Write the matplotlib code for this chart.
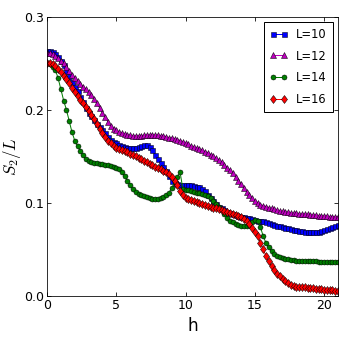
import numpy as np
import matplotlib
matplotlib.use("Agg")
import matplotlib.pyplot as plt

h = np.round(np.arange(0, 21.0001, 0.2), 2)

L10 = [0.263, 0.263, 0.262, 0.260, 0.257, 0.253, 0.248, 0.242, 0.236, 0.230,
       0.225, 0.220, 0.214, 0.208, 0.202, 0.197, 0.193, 0.189, 0.185, 0.182,
       0.178, 0.175, 0.171, 0.168, 0.166, 0.164, 0.162, 0.161, 0.160, 0.159,
       0.159, 0.159, 0.159, 0.160, 0.161, 0.162, 0.162, 0.160, 0.157, 0.152,
       0.147, 0.143, 0.139, 0.134, 0.129, 0.124, 0.121, 0.120, 0.119, 0.119,
       0.119, 0.119, 0.119, 0.118, 0.117, 0.117, 0.115, 0.113, 0.109, 0.105,
       0.102, 0.099, 0.096, 0.094, 0.092, 0.090, 0.089, 0.088, 0.087, 0.086,
       0.085, 0.085, 0.084, 0.084, 0.083, 0.082, 0.081, 0.081, 0.080, 0.079,
       0.078, 0.077, 0.076, 0.075, 0.075, 0.074, 0.073, 0.073, 0.072, 0.071,
       0.071, 0.070, 0.070, 0.069, 0.069, 0.069, 0.069, 0.069, 0.069, 0.070,
       0.071, 0.072, 0.073, 0.074, 0.075, 0.076]

L12 = [0.261, 0.261, 0.260, 0.258, 0.256, 0.253, 0.250, 0.246, 0.242, 0.238,
       0.234, 0.231, 0.228, 0.225, 0.222, 0.219, 0.216, 0.212, 0.207, 0.202,
       0.197, 0.192, 0.187, 0.183, 0.180, 0.178, 0.176, 0.175, 0.174, 0.173,
       0.173, 0.172, 0.172, 0.172, 0.172, 0.173, 0.173, 0.173, 0.173, 0.173,
       0.173, 0.172, 0.172, 0.171, 0.170, 0.170, 0.169, 0.168, 0.167, 0.166,
       0.164, 0.163, 0.161, 0.160, 0.159, 0.158, 0.157, 0.155, 0.154, 0.152,
       0.150, 0.148, 0.146, 0.144, 0.141, 0.138, 0.135, 0.132, 0.128, 0.124,
       0.120, 0.116, 0.112, 0.108, 0.105, 0.102, 0.100, 0.098, 0.097, 0.096,
       0.095, 0.094, 0.093, 0.092, 0.091, 0.091, 0.090, 0.090, 0.089, 0.089,
       0.089, 0.088, 0.088, 0.088, 0.088, 0.087, 0.087, 0.087, 0.086, 0.086,
       0.086, 0.086, 0.085, 0.085, 0.085, 0.085]

L14 = [0.250, 0.249, 0.246, 0.243, 0.234, 0.222, 0.210, 0.200, 0.188, 0.176,
       0.167, 0.161, 0.156, 0.151, 0.147, 0.145, 0.144, 0.143, 0.143, 0.142,
       0.142, 0.141, 0.141, 0.140, 0.139, 0.138, 0.136, 0.133, 0.129, 0.124,
       0.119, 0.115, 0.112, 0.110, 0.108, 0.107, 0.106, 0.105, 0.104, 0.104,
       0.104, 0.105, 0.106, 0.108, 0.111, 0.116, 0.122, 0.128, 0.133, 0.115,
       0.114, 0.114, 0.113, 0.112, 0.111, 0.111, 0.110, 0.109, 0.107, 0.105,
       0.102, 0.099, 0.096, 0.092, 0.088, 0.084, 0.081, 0.079, 0.077, 0.076,
       0.075, 0.075, 0.075, 0.076, 0.079, 0.082, 0.081, 0.074, 0.064, 0.057,
       0.052, 0.048, 0.045, 0.043, 0.042, 0.041, 0.040, 0.040, 0.039, 0.039,
       0.038, 0.038, 0.038, 0.037, 0.037, 0.037, 0.037, 0.037, 0.036, 0.036,
       0.036, 0.036, 0.036, 0.036, 0.036, 0.036]

L16 = [0.251, 0.251, 0.249, 0.247, 0.244, 0.241, 0.237, 0.233, 0.229, 0.224,
       0.219, 0.215, 0.211, 0.207, 0.203, 0.199, 0.195, 0.190, 0.185, 0.180,
       0.175, 0.171, 0.167, 0.164, 0.161, 0.159, 0.158, 0.157, 0.156, 0.155,
       0.153, 0.152, 0.150, 0.148, 0.147, 0.145, 0.144, 0.142, 0.141, 0.139,
       0.138, 0.136, 0.134, 0.133, 0.131, 0.128, 0.124, 0.119, 0.113, 0.108,
       0.105, 0.104, 0.103, 0.102, 0.101, 0.100, 0.099, 0.098, 0.097, 0.096,
       0.095, 0.094, 0.093, 0.092, 0.091, 0.090, 0.089, 0.088, 0.087, 0.086,
       0.085, 0.083, 0.080, 0.077, 0.073, 0.069, 0.064, 0.057, 0.050, 0.043,
       0.037, 0.032, 0.028, 0.024, 0.021, 0.018, 0.016, 0.014, 0.012, 0.011,
       0.010, 0.010, 0.009, 0.009, 0.008, 0.008, 0.008, 0.007, 0.007, 0.007,
       0.006, 0.006, 0.006, 0.006, 0.005, 0.005]

labels = ["L=10", "L=12", "L=14", "L=16"]
xticks = [0, 5, 10, 15, 20]
yticks = [0.0, 0.1, 0.2, 0.3]

plt.rcParams['xtick.direction'] = 'in'
plt.rcParams['ytick.direction'] = 'in'
plt.rcParams['xtick.top'] = True
plt.rcParams['ytick.right'] = True
plt.rcParams['xtick.major.size'] = 4
plt.rcParams['ytick.major.size'] = 4
plt.rcParams['mathtext.fontset'] = 'cm'

fig = plt.figure(figsize=(346/72, 346/72), dpi=72)
ax = fig.add_axes([0.136, 0.145, 0.841, 0.806])

styles = [("b", "s", 5), ("m", "^", 5.5), ("g", "o", 5), ("r", "d", 6)]
for y, lab, (c, m, ms) in zip([L10, L12, L14, L16], labels, styles):
    ax.plot(h, y, color=c, marker=m, markersize=ms, markeredgecolor="k",
            markeredgewidth=0.5, linewidth=1.0, label=lab)

ax.set_xlim(0, 21)
ax.set_ylim(0, 0.3)
ax.set_xticks(xticks)
ax.set_yticks(yticks)
ax.set_yticklabels(["0.0", "0.1", "0.2", "0.3"])
ax.tick_params(labelsize=12.5, pad=3)
ax.set_xlabel("h", fontsize=17, labelpad=5)
ax.set_ylabel("$S_2/L$", fontsize=17, labelpad=1)
leg = ax.legend(loc="upper right", numpoints=2, fontsize=11.5, fancybox=False,
                framealpha=1, edgecolor="k", borderaxespad=0.45,
                handlelength=1.5, handletextpad=0.8, labelspacing=0.75,
                borderpad=0.5)
leg.get_frame().set_linewidth(1.0)

fig.savefig("out.png", dpi=72, facecolor="white")
